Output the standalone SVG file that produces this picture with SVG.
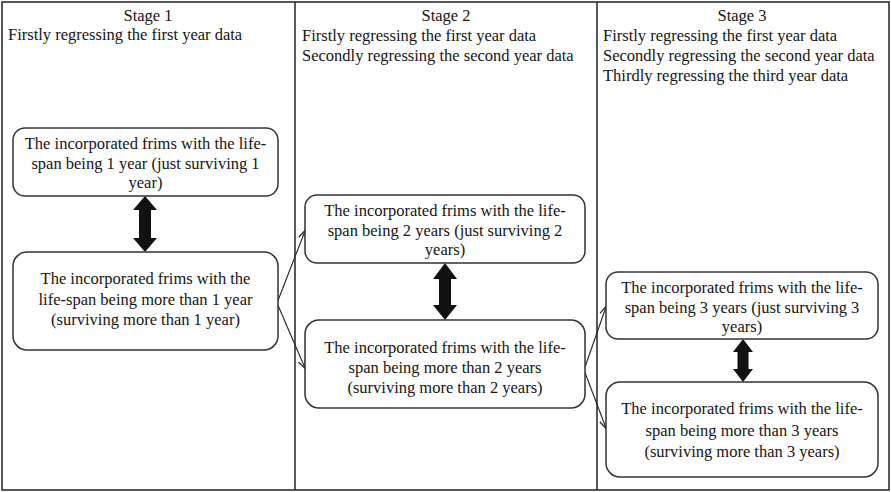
<svg xmlns="http://www.w3.org/2000/svg" width="891" height="492" viewBox="0 0 891 492">
<style>
text{font-family:"Liberation Serif","Times New Roman",serif;font-size:16.5px;fill:#151515}
.c{text-anchor:middle}
.box{fill:#fff;stroke:#333;stroke-width:1.5}
.frame{fill:none;stroke:#222;stroke-width:1.5}
.dbl{fill:#111}
.con{stroke:#222;stroke-width:1.1;fill:none;marker-end:url(#ah)}
</style>
<defs>
<marker id="ah" viewBox="0 0 10 10" refX="9" refY="5" markerWidth="9" markerHeight="9" markerUnits="userSpaceOnUse" orient="auto">
<path d="M0,1 L10,5 L0,9" fill="none" stroke="#222" stroke-width="1.4"/>
</marker>
</defs>
<rect width="891" height="492" fill="#fff"/>
<g id="frame">
<rect class="frame" x="2" y="2" width="887" height="488"/>
<line class="frame" x1="295" y1="2" x2="295" y2="490"/>
<line class="frame" x1="597" y1="2" x2="597" y2="490"/>
</g>
<g id="stage1-header">
<text class="c" x="148" y="21">Stage 1</text>
<text x="8" y="40">Firstly regressing the first year data</text>
</g>
<g id="stage2-header">
<text class="c" x="446" y="21">Stage 2</text>
<text x="302" y="41">Firstly regressing the first year data</text>
<text x="302" y="61">Secondly regressing the second year data</text>
</g>
<g id="stage3-header">
<text class="c" x="742" y="21">Stage 3</text>
<text x="603" y="41">Firstly regressing the first year data</text>
<text x="603" y="61">Secondly regressing the second year data</text>
<text x="603" y="81">Thirdly regressing the third year data</text>
</g>
<g id="connectors">
<polygon class="dbl" points="145,196 157,210 151,210 151,238 157,238 145,252 133,238 139,238 139,210 133,210"/>
<polygon class="dbl" points="445,263 457,279 451,279 451,305 457,305 445,320 433,305 439,305 439,279 433,279"/>
<polygon class="dbl" points="743,339 753,352 748.5,352 748.5,369 753,369 743,382 733,369 737.5,369 737.5,352 733,352"/>
<line class="con" x1="277" y1="303" x2="305" y2="231"/>
<line class="con" x1="277" y1="303" x2="305" y2="368"/>
<line class="con" x1="584" y1="370" x2="606" y2="307"/>
<line class="con" x1="584" y1="370" x2="606" y2="428"/>
</g>
<g id="box1">
<rect class="box" x="13" y="128" width="265" height="68" rx="12"/>
<text class="c" x="145.5" y="149">The incorporated frims with the life-</text>
<text class="c" x="145.5" y="168.5">span being 1 year (just surviving 1</text>
<text class="c" x="145.5" y="188">year)</text>
</g>
<g id="box2">
<rect class="box" x="13" y="252" width="265" height="98" rx="14"/>
<text class="c" x="145.5" y="284">The incorporated frims with the</text>
<text class="c" x="145.5" y="304.5">life-span being more than 1 year</text>
<text class="c" x="145.5" y="325">(surviving more than 1 year)</text>
</g>
<g id="box3">
<rect class="box" x="305" y="195" width="280" height="68" rx="12"/>
<text class="c" x="445" y="216">The incorporated frims with the life-</text>
<text class="c" x="445" y="235.5">span being 2 years (just surviving 2</text>
<text class="c" x="445" y="255">years)</text>
</g>
<g id="box4">
<rect class="box" x="305" y="320" width="280" height="88" rx="14"/>
<text class="c" x="445" y="353">The incorporated frims with the life-</text>
<text class="c" x="445" y="373">span being more than 2 years</text>
<text class="c" x="445" y="393">(surviving more than 2 years)</text>
</g>
<g id="box5">
<rect class="box" x="606" y="272" width="272" height="67" rx="12"/>
<text class="c" x="742" y="293">The incorporated frims with the life-</text>
<text class="c" x="742" y="312.5">span being 3 years (just surviving 3</text>
<text class="c" x="742" y="332">years)</text>
</g>
<g id="box6">
<rect class="box" x="606" y="382" width="272" height="95" rx="14"/>
<text class="c" x="742" y="414">The incorporated frims with the life-</text>
<text class="c" x="742" y="435.5">span being more than 3 years</text>
<text class="c" x="742" y="457">(surviving more than 3 years)</text>
</g>
</svg>
